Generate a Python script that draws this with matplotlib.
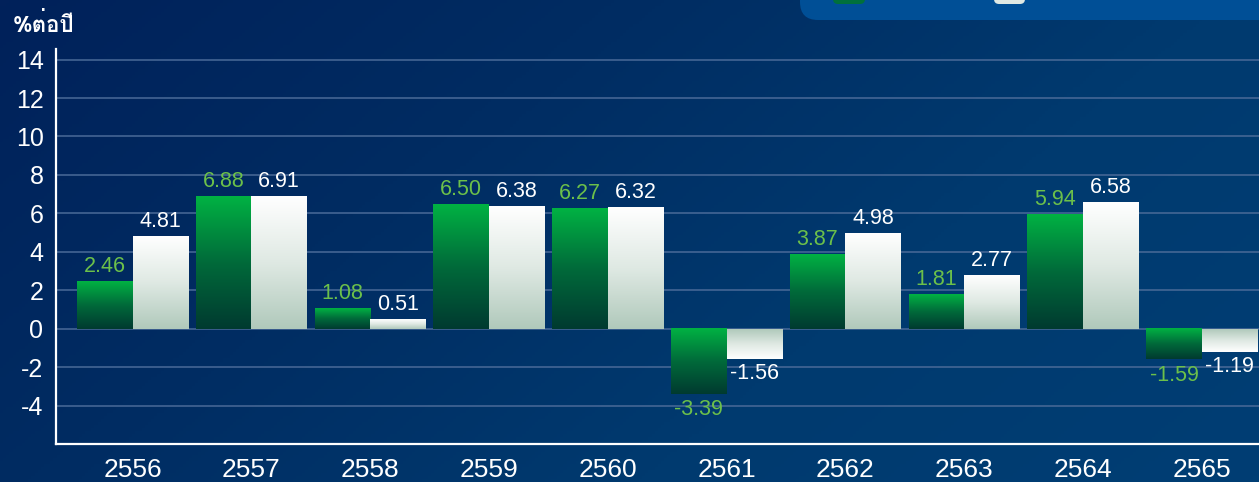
import numpy as np
import matplotlib
matplotlib.use("Agg")
import matplotlib.pyplot as plt
from matplotlib import font_manager as fm
from matplotlib.patches import FancyBboxPatch
from matplotlib.colors import LinearSegmentedColormap

plt.rcParams["axes.unicode_minus"] = False

# ---------------- data ----------------
years = ["2556", "2557", "2558", "2559", "2560", "2561", "2562", "2563", "2564", "2565"]
green_vals = [2.46, 6.88, 1.08, 6.50, 6.27, -3.39, 3.87, 1.81, 5.94, -1.59]
white_vals = [4.81, 6.91, 0.51, 6.38, 6.32, -1.56, 4.98, 2.77, 6.58, -1.19]
yticks = [-4, -2, 0, 2, 4, 6, 8, 10, 12, 14]
ylabel_text = "%ต่อปี"

# ---------------- fonts ----------------
num_font = "Liberation Sans"

thai_family = None
try:
    from matplotlib.ft2font import FT2Font
    for f in fm.fontManager.ttflist:
        try:
            cmap = FT2Font(f.fname).get_charmap()
            if 0x0E15 in cmap and 0x0E1B in cmap and 0x0E48 in cmap:
                thai_family = f.name
                break
        except Exception:
            pass
except Exception:
    pass

W, H = 1259, 482
fig = plt.figure(figsize=(W / 100, H / 100), dpi=100)

# ---------------- background ----------------
bg = fig.add_axes([0, 0, 1, 1])
bg.set_xlim(0, W)
bg.set_ylim(0, H)
bg.axis("off")
xx, yy = np.meshgrid(np.linspace(0, 1, 400), np.linspace(0, 1, 160))
t = (xx * 0.75 + (1 - yy) * 0.35)
t = t / t.max()
bg_cmap = LinearSegmentedColormap.from_list("bg", ["#01215a", "#002c62", "#003a6f", "#003e74"])
bg.imshow(t, extent=(0, W, 0, H), origin="lower", cmap=bg_cmap, aspect="auto", zorder=0)

# legend box (cut off at the top of the picture)
bg.add_patch(FancyBboxPatch((800, 462), 520, 80, boxstyle="round,pad=0,rounding_size=18",
                            fc="#004f96", ec="none", zorder=1))
bg.add_patch(FancyBboxPatch((833, 478), 32, 30, boxstyle="round,pad=0,rounding_size=5",
                            fc="#00703c", ec="none", zorder=2))
bg.add_patch(FancyBboxPatch((994, 478), 31, 30, boxstyle="round,pad=0,rounding_size=5",
                            fc="#dfe9e4", ec="none", zorder=2))

# ---------------- main axes ----------------
ax = fig.add_axes([56 / W, 38 / H, 1 - 56 / W, 395 / H])
ax.set_facecolor("none")

x = np.arange(len(years))
bw = 0.467
gbars = ax.bar(x - bw / 2, green_vals, bw, color="none", zorder=3)
wbars = ax.bar(x + bw / 2, white_vals, bw, color="none", zorder=3)

green_cmap = LinearSegmentedColormap.from_list("g", ["#003a30", "#006a3a", "#00b243"])
white_cmap = LinearSegmentedColormap.from_list("w", ["#b0c9bb", "#dfe9e3", "#ffffff"])
grad = np.linspace(0, 1, 256).reshape(-1, 1)

for b in gbars:
    x0, y0 = b.get_x(), b.get_y()
    w, h = b.get_width(), b.get_height()
    lo, hi = min(y0, y0 + h), max(y0, y0 + h)
    ax.imshow(grad, extent=(x0, x0 + w, lo, hi), origin="lower", cmap=green_cmap,
              aspect="auto", zorder=3, interpolation="bicubic")
for b in wbars:
    x0, y0 = b.get_x(), b.get_y()
    w, h = b.get_width(), b.get_height()
    lo, hi = min(y0, y0 + h), max(y0, y0 + h)
    g = grad if h >= 0 else grad[::-1]
    ax.imshow(g, extent=(x0, x0 + w, lo, hi), origin="lower", cmap=white_cmap,
              aspect="auto", zorder=3, interpolation="bicubic")
ax.set_xlim(-0.644, 9.482)
ax.set_ylim(-6, 14.55)

# value labels
for xi, v in zip(x - bw / 2, green_vals):
    ax.annotate(f"{v:.2f}", (xi, v), xytext=(0, 3 if v >= 0 else -4), textcoords="offset points",
                ha="center", va="bottom" if v >= 0 else "top", color="#6cc04a",
                fontsize=15.5, family=num_font, zorder=5)
for xi, v in zip(x + bw / 2, white_vals):
    ax.annotate(f"{v:.2f}", (xi, v), xytext=(0, 3 if v >= 0 else -3), textcoords="offset points",
                ha="center", va="bottom" if v >= 0 else "top", color="white",
                fontsize=15.5, family=num_font, zorder=5)

# grid, spines, ticks
ax.set_yticks(yticks)
ax.set_xticks(x)
ax.set_xticklabels(years)
ax.grid(axis="y", color="#4a6a98", linewidth=1.1, zorder=1)
ax.grid(axis="x", visible=False)
ax.set_axisbelow(True)
for s in ["top", "right"]:
    ax.spines[s].set_visible(False)
for s in ["left", "bottom"]:
    ax.spines[s].set_color("white")
    ax.spines[s].set_linewidth(1.6)
    ax.spines[s].set_zorder(6)
ax.tick_params(axis="both", length=0, colors="white")
ax.tick_params(axis="y", pad=9, labelsize=18)
ax.tick_params(axis="x", pad=10, labelsize=19)
for lab in ax.get_xticklabels() + ax.get_yticklabels():
    lab.set_family(num_font)

# y-axis title
fam = [thai_family, "DejaVu Sans"] if thai_family else ["DejaVu Sans"]
fig.text(13 / W, 1 - 32 / H, ylabel_text, color="white", fontsize=16, fontweight="bold",
         family=fam, ha="left", va="baseline")

fig.savefig("out.png", dpi=100)
